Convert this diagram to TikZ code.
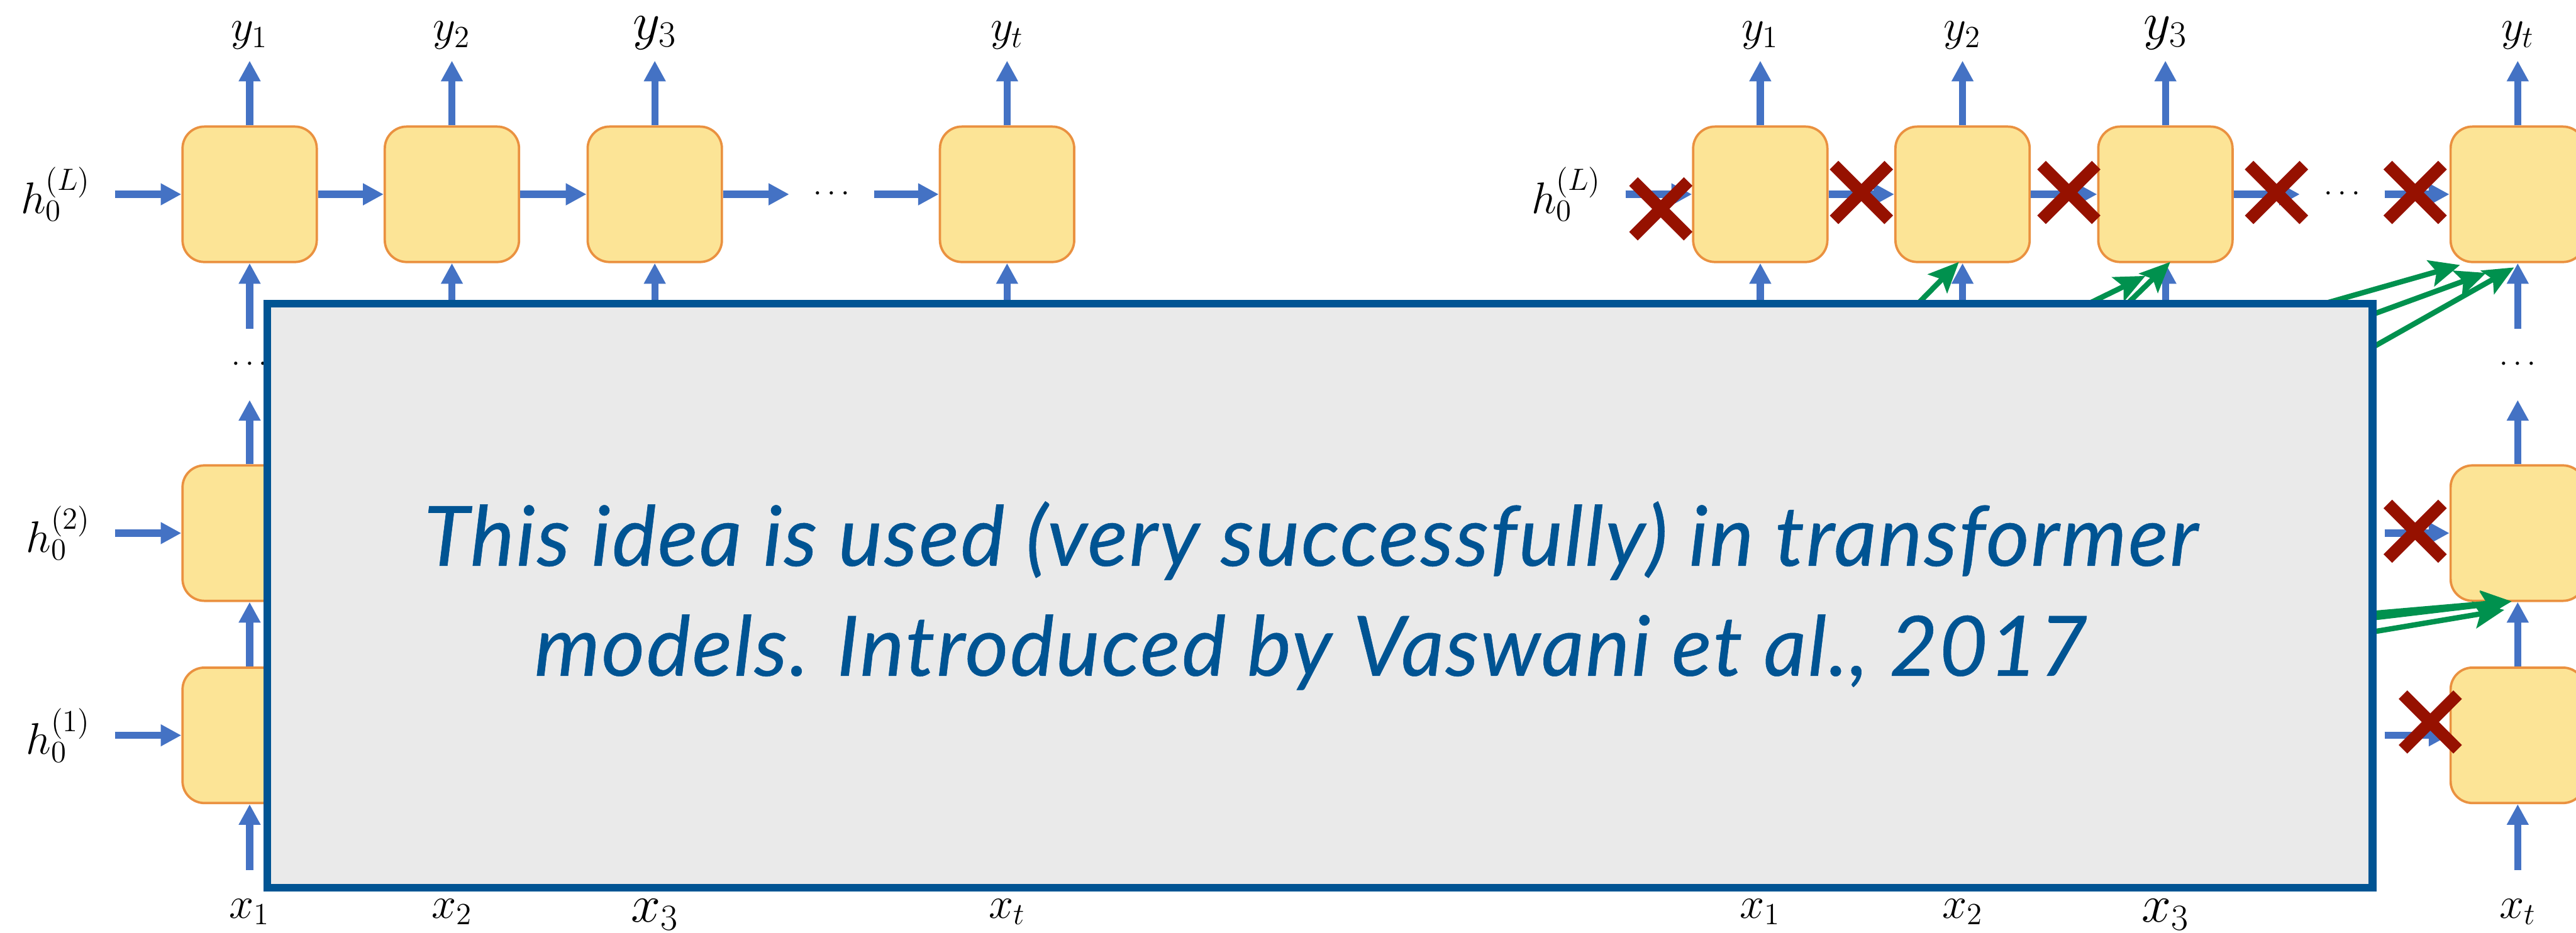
\documentclass[tikz,border=0pt]{standalone}
\usepackage{fontspec}
\newfontfamily\notefont{Lato}[LetterSpace=2.0, FakeBold=0.4]
\usetikzlibrary{calc, arrows.meta, positioning}

\definecolor{cellfill}{RGB}{252,228,150}
\definecolor{celledge}{RGB}{234,145,64}
\definecolor{flowblue}{RGB}{68,114,196}
\definecolor{attgreen}{RGB}{0,145,78}
\definecolor{crossred}{RGB}{150,17,0}
\definecolor{noteblue}{RGB}{0,84,147}
\definecolor{notegray}{RGB}{234,234,234}

\begin{document}
\begin{tikzpicture}[
  cell/.style={draw=celledge, line width=1.1pt, fill=cellfill, rounded corners=0.36cm,
    minimum width=2.21cm, minimum height=2.23cm, inner sep=0},
  lab/.style={font=\fontsize{22}{26}\selectfont, inner xsep=0, inner ysep=0},
  dotsnode/.style={font=\fontsize{14}{16}\selectfont, inner sep=0},
  flow/.style={draw=flowblue, line width=3.3pt, -{Triangle[length=0.34cm, width=0.34cm]}},
  att/.style={draw=attgreen, line width=2.5pt, -{Stealth[length=0.5cm, width=0.44cm, inset=0.1cm]}},
  crossmark/.pic={\draw[crossred, line width=0.2cm] (-0.45,-0.45) -- (0.45,0.45) (-0.45,0.45) -- (0.45,-0.45);}
]
\path[use as bounding box, fill=white] (0,0) rectangle (42.41,15.36);

% Two stacked RNNs, left (L) and right (R)
\foreach \ox/\s in {0/L, 24.87/R} {
  % layers: cells and row arrows
  \foreach \ly/\lyr/\dt in {12.16/3/$\cdots$, 6.58/2/{}, 3.25/1/{}} {
    \foreach \cx/\col in {4.11/1, 7.44/2, 10.78/3, 16.58/t}
      \node[cell] (\s-\lyr-\col) at (\ox+\cx, \ly) {};
    \node[dotsnode, minimum width=1.38cm, minimum height=0.3cm] (\s-\lyr-d) at (\ox+13.69, \ly) {\dt};
    \draw[flow] (\s-\lyr-1) -- (\s-\lyr-2);
    \draw[flow] (\s-\lyr-2) -- (\s-\lyr-3);
    \draw[flow] (\s-\lyr-3) -- (\s-\lyr-d);
    \draw[flow] (\s-\lyr-d) -- (\s-\lyr-t);
  }
  % columns: inputs, outputs and vertical arrows
  \foreach \cx/\col/\fs in {4.11/1/22, 7.44/2/22, 10.78/3/25, 16.58/t/22} {
    \node[lab, font=\fontsize{\fs}{28}\selectfont, anchor=north, inner ysep=0.47cm] (\s-x\col) at (\ox+\cx, 1.03) {$x_{\col}$};
    \node[lab, font=\fontsize{\fs}{28}\selectfont, anchor=south, inner ysep=0.18cm] (\s-y\col) at (\ox+\cx, 14.36) {$y_{\col}$};
    \node[dotsnode, minimum height=1.16cm] (\s-v\col) at (\ox+\cx, 9.36) {$\cdots$};
    \draw[flow] (\s-x\col) -- (\s-1-\col);
    \draw[flow] (\s-1-\col) -- (\s-2-\col);
    \draw[flow] (\s-2-\col) -- (\s-v\col);
    \draw[flow] (\s-v\col) -- (\s-3-\col);
    \draw[flow] (\s-3-\col) -- (\s-y\col);
  }
}

% Initial hidden states
\foreach \hn/\cn/\hx/\hy/\lay in {L-h3/L-3-1/1.50/12.16/L, L-h2/L-2-1/1.50/6.58/2,
    L-h1/L-1-1/1.50/3.25/1, R-h3/R-3-1/26.37/12.16/L} {
  \node[lab, anchor=east] (\hn) at (\hx, \hy) {$h_0^{(\lay)}$};
  \draw[flow, shorten <=0.39cm] (\hn) -- (\cn);
}

% Attention links in the right model
\foreach \a/\b/\dx/\dy in {R-2-1/R-3-2/-0.06/0.02, R-2-2/R-3-3/0.08/0.02, R-2-1/R-3-3/-0.33/-0.21,
    R-2-1/R-3-t/-0.95/-0.03, R-2-2/R-3-t/-0.52/-0.16, R-2-3/R-3-t/-0.06/-0.07,
    R-1-1/R-2-t/-0.10/0.01, R-1-2/R-2-t/-0.10/0.01, R-1-3/R-2-t/-0.22/-0.13}
  \draw[att] (\a.north) -- ($(\b.south)+(\dx,\dy)$);

% Cut recurrent connections
\foreach \a/\b/\dx/\dy in {R-h3/R-3-1/0.23/-0.24, R-3-1/R-3-2/0/0.03, R-3-2/R-3-3/0.08/0.03,
    R-3-3/R-3-d/0.16/0.03, R-3-d/R-3-t/-0.03/0.03, R-2-d/R-2-t/-0.03/0.03, R-1-d/R-1-t/0.22/0.22}
  \pic at ($(\a.east)!0.5!(\b.west)+(\dx,\dy)$) {crossmark};

% Overlay note
\node[draw=noteblue, line width=0.13cm, fill=notegray, minimum width=34.66cm,
  minimum height=9.62cm, inner sep=0] (note) at (21.73,5.55) {};
\node[text=noteblue, font={\notefont\itshape\fontsize{39}{51.5}\selectfont}, align=center]
  (notetext) at ($(note.center)+(-0.15,0)$) {This idea is used (very successfully) in transformer\\models. Introduced by Vaswani et al., 2017};

\end{tikzpicture}
\end{document}
